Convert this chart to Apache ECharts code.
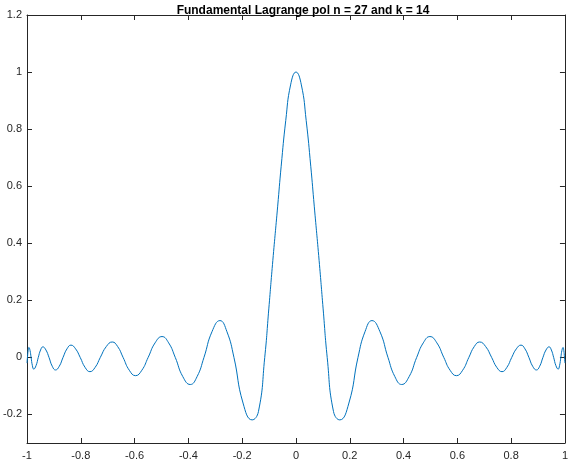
<!DOCTYPE html>
<html><head><meta charset="utf-8">
<script src="https://cdn.jsdelivr.net/npm/echarts@6/dist/echarts.min.js"></script>
<style>html,body{margin:0;padding:0;background:#fff}#c{width:571px;height:463px}</style>
</head><body><div id="c"></div>
<script>
var titleText = 'Fundamental Lagrange pol n = 27 and k = 14';
var xTicks = [-1, -0.8, -0.6, -0.4, -0.2, 0, 0.2, 0.4, 0.6, 0.8, 1];
var yTicks = [-0.2, 0, 0.2, 0.4, 0.6, 0.8, 1, 1.2];
// points, left half (x < 0): zero crossings, extrema and flank points
var xsLeft = [-1, -0.9983, -0.9957, -0.993, -0.9889, -0.9848, -0.9799, -0.975, -0.9665, -0.958,
  -0.9495, -0.941, -0.9296, -0.9182, -0.9061, -0.894, -0.88, -0.866,
  -0.8513, -0.8366, -0.8194, -0.8022, -0.7841, -0.766, -0.7467, -0.7274,
  -0.7052, -0.683, -0.6629, -0.6428, -0.6197, -0.5965, -0.573, -0.5495,
  -0.5238, -0.498, -0.4734, -0.4488, -0.4209, -0.393, -0.3675, -0.342,
  -0.3123, -0.2826, -0.2566, -0.2306, -0.1968, -0.163, -0.1396, -0.1161,
  -0.101, -0.086, -0.068, -0.055, -0.038, -0.02];
var ysLeft = [-0.02, 0, 0.025, 0.035, 0.025, 0, -0.029, -0.041, -0.029, 0,
  0.026, 0.037, 0.026, 0, -0.031, -0.044, -0.031, 0,
  0.030, 0.043, 0.030, 0, -0.035, -0.05, -0.035, 0,
  0.038, 0.054, 0.038, 0, -0.045, -0.064, -0.045, 0,
  0.051, 0.073, 0.051, 0, -0.067, -0.095, -0.067, 0,
  0.09, 0.129, 0.09, 0, -0.16, -0.219, -0.19, 0,
  0.17, 0.34, 0.53, 0.67, 0.83, 0.955];
// peak at the middle node
var peakX = 0, peakY = 1;
// the right half (x > 0) reads as the mirror image of the left half
var xs = xsLeft.concat([peakX], xsLeft.slice().reverse().map(function (v) { return -v; }));
var ys = ysLeft.concat([peakY], ysLeft.slice().reverse());

var data = xs.map(function (x, i) { return [x, ys[i]]; });
var ax = '#262626';
var lab = { color: ax, fontSize: 11, fontFamily: 'Liberation Sans, Arial, sans-serif' };
function axLine() { return { show: true, onZero: false, lineStyle: { color: ax, width: 1 } }; }
var chart = echarts.init(document.getElementById('c'), null, { renderer: 'canvas' });
chart.setOption({
  animation: false,
  backgroundColor: '#fff',
  title: { text: titleText, left: 298, textAlign: 'center', top: 0,
    textStyle: { fontSize: 12, fontWeight: 'bold', color: '#000', fontFamily: 'Liberation Sans, Arial, sans-serif' } },
  grid: { left: 27, top: 15, width: 542, height: 428 },
  xAxis: [
    { type: 'value', min: -1, max: 1, interval: 0.2, position: 'bottom',
      axisLine: axLine(),
      axisTick: { show: true, inside: true, length: 5, customValues: xTicks, lineStyle: { color: ax } },
      axisLabel: Object.assign({ margin: 7, customValues: xTicks }, lab),
      splitLine: { show: false } },
    { type: 'value', min: -1, max: 1, interval: 0.2, position: 'top',
      axisLine: axLine(),
      axisTick: { show: true, inside: true, length: 5, customValues: xTicks, lineStyle: { color: ax } },
      axisLabel: { show: false }, splitLine: { show: false } }
  ],
  yAxis: [
    { type: 'value', min: -0.3, max: 1.2, position: 'left',
      axisLine: axLine(),
      axisTick: { show: true, inside: true, length: 5, customValues: yTicks, lineStyle: { color: ax } },
      axisLabel: Object.assign({ margin: 5, customValues: yTicks }, lab),
      splitLine: { show: false } },
    { type: 'value', min: -0.3, max: 1.2, position: 'right',
      axisLine: axLine(),
      axisTick: { show: true, inside: true, length: 5, customValues: yTicks, lineStyle: { color: ax } },
      axisLabel: { show: false }, splitLine: { show: false } }
  ],
  series: [{
    type: 'line', xAxisIndex: 0, yAxisIndex: 0, data: data,
    showSymbol: false, smooth: 0.5,
    lineStyle: { color: '#0072BD', width: 1 }
  }]
});
</script></body></html>
